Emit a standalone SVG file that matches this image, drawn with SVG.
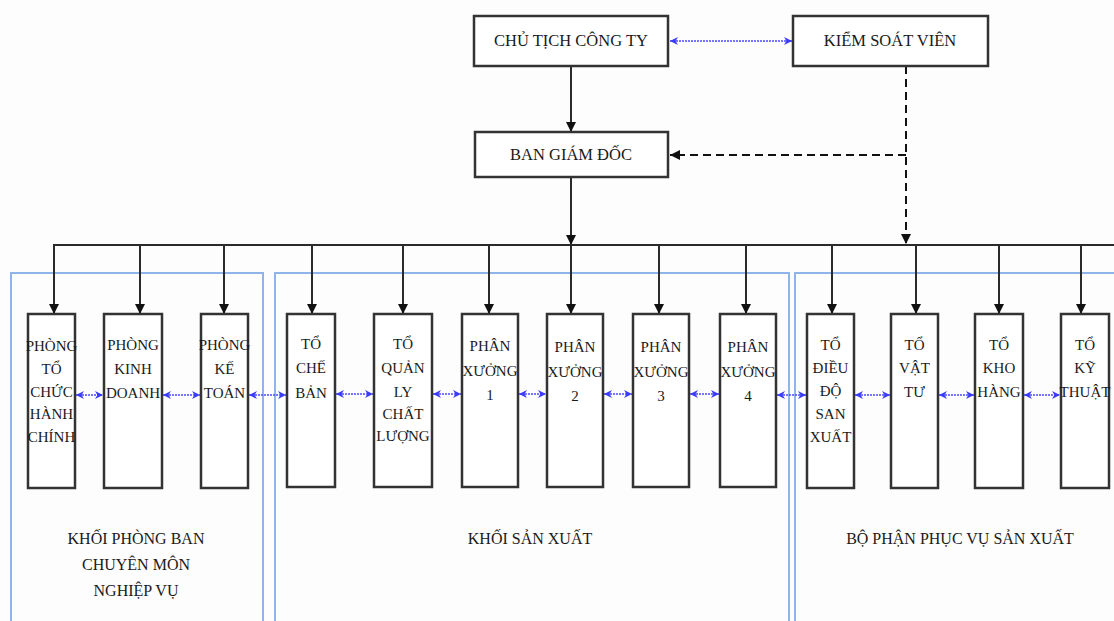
<svg xmlns="http://www.w3.org/2000/svg" width="1114" height="621" viewBox="0 0 1114 621">
<style>
.bg{fill:#fdfdfd}
.box{fill:#fff;stroke:#333;stroke-width:2.5}
.grp{fill:none;stroke:#8fb4ea;stroke-width:2}
.t{font-family:"Liberation Serif","Times New Roman",serif;font-size:15px;fill:#1a1a1a;text-anchor:middle}
.tl{font-family:"Liberation Serif","Times New Roman",serif;font-size:16.5px;fill:#1a1a1a;text-anchor:middle}
.g{font-family:"Liberation Serif","Times New Roman",serif;font-size:16px;fill:#1a1a1a;text-anchor:middle}
.ln{fill:none;stroke:#2a2a2a;stroke-width:2}
.dash{fill:none;stroke:#111;stroke-width:2;stroke-dasharray:8 5}
.blue{fill:none;stroke:#4a4aff;stroke-width:1.6;stroke-dasharray:2 1;marker-start:url(#ba);marker-end:url(#ba)}
</style>
<defs>
<marker id="ah" viewBox="0 0 10 10" refX="10" refY="5" markerWidth="5" markerHeight="5" orient="auto" markerUnits="strokeWidth">
<path d="M0,0 L10,5 L0,10 z" fill="#111"/>
</marker>
<marker id="ba" viewBox="0 0 10 10" refX="10" refY="5" markerWidth="5" markerHeight="6" orient="auto-start-reverse" markerUnits="strokeWidth">
<path d="M0,0 L10,5 L0,10 L3,5 z" fill="#3a3aff"/>
</marker>
</defs>
<rect class="bg" x="0" y="0" width="1114" height="621"/>

<g id="groups">
<rect class="grp" x="11" y="273" width="252" height="400"/>
<rect class="grp" x="275" y="273" width="514" height="400"/>
<rect class="grp" x="795" y="273" width="400" height="400"/>
</g>

<g id="connectors">
<line class="ln" x1="571" y1="66" x2="571" y2="132" marker-end="url(#ah)"/>
<line class="ln" x1="571" y1="177" x2="571" y2="245" marker-end="url(#ah)"/>
<line class="ln" x1="53" y1="245" x2="1114" y2="245"/>
<line class="dash" x1="906" y1="66" x2="906" y2="244" marker-end="url(#ah)"/>
<line class="dash" x1="906" y1="155" x2="670" y2="155" marker-end="url(#ah)"/>
<line class="blue" x1="670" y1="41" x2="792" y2="41"/>
<line class="ln" x1="54" y1="245" x2="54" y2="314" marker-end="url(#ah)"/>
<line class="ln" x1="140" y1="245" x2="140" y2="314" marker-end="url(#ah)"/>
<line class="ln" x1="224" y1="245" x2="224" y2="314" marker-end="url(#ah)"/>
<line class="ln" x1="312" y1="245" x2="312" y2="314" marker-end="url(#ah)"/>
<line class="ln" x1="403" y1="245" x2="403" y2="314" marker-end="url(#ah)"/>
<line class="ln" x1="489" y1="245" x2="489" y2="314" marker-end="url(#ah)"/>
<line class="ln" x1="571" y1="245" x2="571" y2="314" marker-end="url(#ah)"/>
<line class="ln" x1="659" y1="245" x2="659" y2="314" marker-end="url(#ah)"/>
<line class="ln" x1="746" y1="245" x2="746" y2="314" marker-end="url(#ah)"/>
<line class="ln" x1="832" y1="245" x2="832" y2="314" marker-end="url(#ah)"/>
<line class="ln" x1="916" y1="245" x2="916" y2="314" marker-end="url(#ah)"/>
<line class="ln" x1="999" y1="245" x2="999" y2="314" marker-end="url(#ah)"/>
<line class="ln" x1="1081" y1="245" x2="1081" y2="314" marker-end="url(#ah)"/>
<line class="blue" x1="76" y1="395" x2="103" y2="395"/>
<line class="blue" x1="163" y1="395" x2="200" y2="395"/>
<line class="blue" x1="249" y1="395" x2="286" y2="395"/>
<line class="blue" x1="336" y1="394" x2="373" y2="394"/>
<line class="blue" x1="433" y1="394" x2="461" y2="394"/>
<line class="blue" x1="519" y1="394" x2="546" y2="394"/>
<line class="blue" x1="604" y1="394" x2="632" y2="394"/>
<line class="blue" x1="690" y1="394" x2="719" y2="394"/>
<line class="blue" x1="777" y1="395" x2="806" y2="395"/>
<line class="blue" x1="855" y1="395" x2="890" y2="395"/>
<line class="blue" x1="939" y1="395" x2="974" y2="395"/>
<line class="blue" x1="1024" y1="395" x2="1060" y2="395"/>
</g>

<g id="chu-tich">
<rect class="box" x="474" y="16" width="194" height="50"/>
<text class="tl" x="571" y="46">CHỦ TỊCH CÔNG TY</text>
</g>
<g id="kiem-soat-vien">
<rect class="box" x="793" y="16" width="195" height="50"/>
<text class="tl" x="890" y="46">KIỂM SOÁT VIÊN</text>
</g>
<g id="ban-giam-doc">
<rect class="box" x="475" y="132" width="193" height="45"/>
<text class="tl" x="571" y="160">BAN GIÁM ĐỐC</text>
</g>

<g id="phong-tchc">
<rect class="box" x="28" y="314" width="47" height="174"/>
<text class="t" x="51.5" y="351">PHÒNG</text>
<text class="t" x="51.5" y="374">TỔ</text>
<text class="t" x="51.5" y="397">CHỨC</text>
<text class="t" x="51.5" y="419">HÀNH</text>
<text class="t" x="51.5" y="442">CHÍNH</text>
</g>
<g id="phong-kd">
<rect class="box" x="104" y="314" width="58" height="174"/>
<text class="t" x="133" y="350">PHÒNG</text>
<text class="t" x="133" y="374">KINH</text>
<text class="t" x="133" y="398">DOANH</text>
</g>
<g id="phong-kt">
<rect class="box" x="201" y="314" width="47" height="174"/>
<text class="t" x="224.5" y="350">PHÒNG</text>
<text class="t" x="224.5" y="374">KẾ</text>
<text class="t" x="224.5" y="398">TOÁN</text>
</g>

<g id="to-che-ban">
<rect class="box" x="287" y="314" width="48" height="173"/>
<text class="t" x="311" y="349">TỔ</text>
<text class="t" x="311" y="373">CHẾ</text>
<text class="t" x="311" y="398">BẢN</text>
</g>
<g id="to-qlcl">
<rect class="box" x="374" y="314" width="58" height="173"/>
<text class="t" x="403" y="349">TỔ</text>
<text class="t" x="403" y="373">QUẢN</text>
<text class="t" x="403" y="397">LY</text>
<text class="t" x="403" y="419">CHẤT</text>
<text class="t" x="403" y="441">LƯỢNG</text>
</g>
<g id="px1">
<rect class="box" x="462" y="314" width="56" height="173"/>
<text class="t" x="490" y="351">PHÂN</text>
<text class="t" x="490" y="376">XƯỞNG</text>
<text class="t" x="490" y="400">1</text>
</g>
<g id="px2">
<rect class="box" x="547" y="314" width="56" height="173"/>
<text class="t" x="575" y="352">PHÂN</text>
<text class="t" x="575" y="377">XƯỞNG</text>
<text class="t" x="575" y="401">2</text>
</g>
<g id="px3">
<rect class="box" x="633" y="314" width="56" height="173"/>
<text class="t" x="661" y="352">PHÂN</text>
<text class="t" x="661" y="377">XƯỞNG</text>
<text class="t" x="661" y="401">3</text>
</g>
<g id="px4">
<rect class="box" x="720" y="314" width="56" height="173"/>
<text class="t" x="748" y="352">PHÂN</text>
<text class="t" x="748" y="377">XƯỞNG</text>
<text class="t" x="748" y="401">4</text>
</g>

<g id="to-dieu-do">
<rect class="box" x="807" y="314" width="47" height="174"/>
<text class="t" x="830.5" y="350">TỔ</text>
<text class="t" x="830.5" y="373">ĐIỀU</text>
<text class="t" x="830.5" y="396">ĐỘ</text>
<text class="t" x="830.5" y="419">SAN</text>
<text class="t" x="830.5" y="442">XUẤT</text>
</g>
<g id="to-vat-tu">
<rect class="box" x="891" y="314" width="47" height="174"/>
<text class="t" x="914.5" y="350">TỔ</text>
<text class="t" x="914.5" y="373">VẬT</text>
<text class="t" x="914.5" y="397">TƯ</text>
</g>
<g id="to-kho-hang">
<rect class="box" x="975" y="314" width="48" height="174"/>
<text class="t" x="999" y="350">TỔ</text>
<text class="t" x="999" y="373">KHO</text>
<text class="t" x="999" y="397">HÀNG</text>
</g>
<g id="to-ky-thuat">
<rect class="box" x="1061" y="314" width="48" height="174"/>
<text class="t" x="1085" y="350">TỔ</text>
<text class="t" x="1085" y="373">KỸ</text>
<text class="t" x="1085" y="397">THUẬT</text>
</g>

<g id="group-labels">
<text class="g" x="136" y="544">KHỐI PHÒNG BAN</text>
<text class="g" x="136" y="570">CHUYÊN MÔN</text>
<text class="g" x="136" y="596">NGHIỆP VỤ</text>
<text class="g" x="530" y="544">KHỐI SẢN XUẤT</text>
<text class="g" x="960" y="544">BỘ PHẬN PHỤC VỤ SẢN XUẤT</text>
</g>
</svg>
